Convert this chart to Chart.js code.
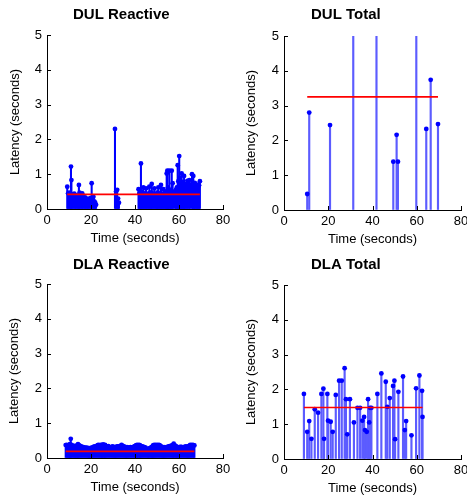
<!DOCTYPE html>
<html>
<head>
<meta charset="utf-8">
<script src="https://cdn.jsdelivr.net/npm/chart.js@4/dist/chart.umd.min.js"></script>
<style>
  body { margin: 0; background: #fff; }
  #wrap { position: relative; width: 467px; height: 497px; }
  canvas { position: absolute; }
</style>
</head>
<body>
<div id="wrap">
  <canvas id="c0" width="234" height="250" style="left:0;top:0"></canvas>
  <canvas id="c1" width="233" height="250" style="left:234px;top:0"></canvas>
  <canvas id="c2" width="234" height="247" style="left:0;top:250px"></canvas>
  <canvas id="c3" width="233" height="247" style="left:234px;top:250px"></canvas>
</div>
<script>
// ===== Data =====
const panelTitles = ['DUL Reactive', 'DUL Total', 'DLA Reactive', 'DLA Total'];
const meanLatency = [0.42, 3.25, 0.19, 1.48];
const timeRange = [0, 80];
const latencyRange = [0, 5];

const dulReactiveTime = [
  9.2, 9.6, 10.1, 10.5, 10.9, 11.1, 11.5, 11.9, 12.4, 12.8, 13.2, 13.7, 14.1, 14.5, 14.8, 15.2, 15.6,
  16.0, 16.4, 16.9, 17.3, 17.7, 18.2, 18.6, 19.0, 19.5, 19.9, 20.3, 20.7, 21.1, 21.5, 21.9, 22.3,
  30.9, 31.4, 31.9, 32.3, 32.7,
  41.6, 42.0, 42.4, 42.7, 43.1, 43.5, 43.8, 44.2, 44.6, 45.0, 45.4, 45.8, 46.2, 46.5, 46.9, 47.3,
  47.6, 48.0, 48.4, 48.8, 49.2, 49.6, 50.0, 50.3, 50.6, 51.0, 51.4, 51.8, 52.2, 52.6, 52.9, 53.3,
  53.7, 54.1, 54.4, 54.7, 55.0, 55.3, 55.6, 56.0, 56.3, 56.7, 57.1, 57.4, 58.2, 58.6, 59.0, 59.4,
  59.7, 60.1, 60.4, 60.8, 61.2, 61.5, 61.9, 62.3, 62.6, 63.0, 63.4, 63.8, 64.2, 64.7, 65.0, 65.9,
  66.2, 66.5, 66.9, 67.2, 67.6, 68.0, 68.3, 68.7, 69.1, 69.5
];
const dulReactiveLatency = [
  0.64, 0.45, 0.47, 0.40, 1.22, 0.83, 0.42, 0.38, 0.44, 0.36, 0.40, 0.35, 0.38, 0.69, 0.47, 0.43, 0.40,
  0.45, 0.36, 0.30, 0.33, 0.28, 0.25, 0.30, 0.22, 0.26, 0.32, 0.74, 0.30, 0.35, 0.22, 0.18, 0.12,
  2.30, 0.50, 0.55, 0.30, 0.18,
  0.57, 0.45, 0.40, 1.31, 0.50, 0.42, 0.62, 0.45, 0.38, 0.59, 0.42, 0.36, 0.45, 0.64, 0.40, 0.48,
  0.72, 0.45, 0.38, 0.59, 0.42, 0.36, 0.45, 0.48, 0.62, 0.40, 0.45, 0.69, 0.42, 0.38, 0.57, 0.45,
  0.40, 0.50, 1.02, 1.10, 0.62, 0.45, 1.10, 0.55, 0.45, 1.10, 0.74, 0.50, 0.45, 0.55, 0.62, 1.26,
  0.80, 1.52, 0.90, 0.75, 1.02, 0.78, 0.70, 0.95, 0.72, 0.68, 0.70, 0.81, 0.72, 0.83, 0.70, 1.00,
  0.75, 0.95, 0.70, 0.75, 0.68, 0.65, 0.70, 0.62, 0.68, 0.80
];

const dulTotalTime = [10.5, 11.4, 20.8, 31.3, 41.8, 49.4, 50.9, 51.5, 59.8, 64.3, 66.3, 69.6];
const dulTotalLatency = [0.46, 2.80, 2.44, 6.1, 7.4, 1.39, 2.16, 1.39, 6.3, 2.33, 3.74, 2.47];

const dlaReactiveTime = [
  8.5, 9.0, 9.5, 10.0, 10.4, 10.8, 11.2, 11.7, 12.2, 12.7, 13.2, 13.7, 14.1, 14.6, 15.1, 15.6, 16.1,
  16.6, 17.1, 17.6, 18.1, 18.6, 19.1, 19.5, 20.0, 20.5, 21.0, 21.5, 22.0, 22.5, 23.0, 23.5, 24.0,
  24.5, 25.0, 25.5, 26.0, 26.4, 26.9, 27.4, 27.9, 28.4, 28.9, 29.4, 29.9, 30.4, 30.9, 31.4, 31.9,
  32.4, 32.9, 33.4, 33.9, 34.4, 34.9, 35.4, 35.9, 36.4, 36.9, 37.4, 37.9, 38.4, 38.9, 39.4, 39.9,
  40.4, 40.9, 41.4, 41.9, 42.3, 42.8, 43.3, 43.8, 44.3, 44.8, 45.3, 45.8, 46.2, 46.7, 47.2, 47.7,
  48.2, 48.7, 49.2, 49.7, 50.2, 50.7, 51.2, 51.7, 52.2, 52.7, 53.2, 53.7, 54.2, 54.7, 55.2, 55.7,
  56.2, 56.7, 57.2, 57.6, 58.1, 58.6, 59.1, 59.6, 60.1, 60.6, 61.1, 61.6, 62.1, 62.6, 63.1, 63.6,
  64.1, 64.6, 65.1, 65.6, 66.1, 66.6, 67.0
];
const dlaReactiveLatency = [
  0.37, 0.38, 0.36, 0.37, 0.40, 0.55, 0.38, 0.35, 0.34, 0.35, 0.33, 0.36, 0.40, 0.36, 0.35, 0.33, 0.30,
  0.31, 0.30, 0.29, 0.30, 0.28, 0.28, 0.26, 0.29, 0.30, 0.31, 0.33, 0.32, 0.34, 0.37, 0.38, 0.36,
  0.38, 0.37, 0.39, 0.37, 0.38, 0.34, 0.33, 0.34, 0.31, 0.30, 0.32, 0.33, 0.31, 0.30, 0.32, 0.33,
  0.33, 0.32, 0.35, 0.38, 0.35, 0.33, 0.32, 0.30, 0.31, 0.30, 0.29, 0.31, 0.30, 0.31, 0.32, 0.34,
  0.36, 0.38, 0.37, 0.38, 0.36, 0.34, 0.33, 0.32, 0.31, 0.30, 0.27, 0.25, 0.24, 0.28, 0.30, 0.32,
  0.36, 0.38, 0.37, 0.38, 0.37, 0.38, 0.37, 0.34, 0.32, 0.30, 0.31, 0.30, 0.31, 0.30, 0.33, 0.34,
  0.33, 0.36, 0.38, 0.41, 0.36, 0.34, 0.32, 0.30, 0.31, 0.32, 0.32, 0.30, 0.31, 0.32, 0.33, 0.32,
  0.33, 0.35, 0.38, 0.37, 0.38, 0.37, 0.36
];

const dlaTotalTime = [
  9.0, 10.5, 11.4, 12.4, 13.9, 15.4, 16.9, 17.8, 18.1, 19.6, 19.9, 21.1, 22.0, 23.4, 24.9, 26.1,
  27.4, 28.0, 28.6, 29.8, 31.6, 33.2, 34.4, 35.4, 36.2, 36.6, 37.4, 38.0, 38.5, 38.9, 39.5, 42.2,
  44.0, 46.0, 46.7, 47.8, 49.3, 49.9, 50.2, 51.7, 53.8, 54.6, 55.2, 57.6, 59.7, 61.2, 62.4, 62.6
];
const dlaTotalLatency = [
  1.87, 0.78, 1.09, 0.58, 1.43, 1.33, 1.87, 2.02, 0.58, 1.87, 1.10, 1.07, 0.78, 1.84, 2.25, 2.25,
  2.61, 1.72, 0.71, 1.72, 1.05, 1.47, 1.47, 1.10, 1.21, 0.83, 0.78, 1.72, 1.05, 1.47, 1.47, 1.87,
  2.46, 2.22, 1.50, 1.75, 2.10, 2.25, 0.57, 1.93, 2.37, 0.83, 1.09, 0.68, 2.03, 2.40, 1.96, 1.21
];

// ===== Panel layout =====
const panels = [
  { id: 'c0', time: dulReactiveTime, latency: dulReactiveLatency, stem: 1.4, stemColor: '#0000ff',
    pad: { left: 0, top: 35, right: 11, bottom: 3 }, yWidth: 47, yTitlePad: 8, titleX: 73 },
  { id: 'c1', time: dulTotalTime, latency: dulTotalLatency, stem: 1.5, stemColor: '#5c5cff',
    pad: { left: 0, top: 36, right: 6, bottom: 2 }, yWidth: 50, yTitlePad: 10, titleX: 77 },
  { id: 'c2', time: dlaReactiveTime, latency: dlaReactiveLatency, stem: 1.4, stemColor: '#0000ff',
    pad: { left: 0, top: 34, right: 11, bottom: 1 }, yWidth: 47, yTitlePad: 7, titleX: 73 },
  { id: 'c3', time: dlaTotalTime, latency: dlaTotalLatency, stem: 1.5, stemColor: '#5c5cff',
    pad: { left: 0, top: 35, right: 6, bottom: 0 }, yWidth: 50, yTitlePad: 10, titleX: 77 }
];

Chart.defaults.font.family = 'Arial, "Liberation Sans", sans-serif';
Chart.defaults.color = '#000';

// ===== Plugins: inward ticks + panel title =====
const inwardTicks = {
  id: 'inwardTicks',
  afterDraw(chart) {
    const { ctx, chartArea, scales: { x, y } } = chart;
    ctx.save();
    ctx.strokeStyle = '#000';
    ctx.lineWidth = 1;
    ctx.beginPath();
    x.ticks.forEach(t => {
      const px = Math.round(x.getPixelForValue(t.value)) + 0.5;
      ctx.moveTo(px, chartArea.bottom);
      ctx.lineTo(px, chartArea.bottom - 4);
    });
    y.ticks.forEach(t => {
      const py = Math.round(y.getPixelForValue(t.value)) + 0.5;
      ctx.moveTo(chartArea.left, py);
      ctx.lineTo(chartArea.left + 4, py);
    });
    ctx.stroke();
    ctx.restore();
  }
};

const panelTitle = {
  id: 'panelTitle',
  afterDraw(chart, args, opts) {
    const ctx = chart.ctx;
    ctx.save();
    ctx.font = 'bold 15px Arial, "Liberation Sans", sans-serif';
    ctx.fillStyle = '#000';
    ctx.textAlign = 'left';
    ctx.textBaseline = 'middle';
    ctx.fillText(opts.text, opts.x, opts.y);
    ctx.restore();
  }
};

// ===== Render the four stem plots =====
// lower "order" is drawn last (on top): mean line > heads > stems
panels.forEach((p, i) => {
  const points = p.time.map((t, k) => ({ x: t, y: p.latency[k] }));
  const tStart = Math.min(...p.time);
  const tEnd = Math.max(...p.time);

  new Chart(document.getElementById(p.id), {
    type: 'bar',
    data: {
      datasets: [
        {
          // mean latency
          type: 'line',
          data: [{ x: tStart, y: meanLatency[i] }, { x: tEnd, y: meanLatency[i] }],
          borderColor: '#ff0000',
          borderWidth: 1.7,
          pointRadius: 0,
          order: 0
        },
        {
          // stem heads
          type: 'scatter',
          data: points,
          pointRadius: 2.4,
          pointBackgroundColor: '#0000ff',
          pointBorderWidth: 0,
          clip: 0,
          order: 1
        },
        {
          // stems
          type: 'bar',
          data: points,
          backgroundColor: p.stemColor,
          barThickness: p.stem,
          grouped: false,
          borderWidth: 0,
          clip: 0,
          order: 2
        }
      ]
    },
    options: {
      responsive: false,
      animation: false,
      events: [],
      layout: { padding: p.pad },
      plugins: {
        legend: { display: false },
        tooltip: { enabled: false },
        panelTitle: { text: panelTitles[i], x: p.titleX, y: 15 }
      },
      scales: {
        x: {
          type: 'linear',
          min: timeRange[0],
          max: timeRange[1],
          offset: false,
          grid: { drawOnChartArea: false, drawTicks: false },
          border: { color: '#000' },
          ticks: { stepSize: 20, padding: 4, maxRotation: 0, autoSkip: false, font: { size: 13 } },
          title: { display: true, text: 'Time (seconds)', font: { size: 13 }, padding: { top: 0, bottom: 1 } },
          afterFit(s) { s.height = 38; s.paddingLeft = 0; s.paddingRight = 0; }
        },
        y: {
          min: latencyRange[0],
          max: latencyRange[1],
          grid: { drawOnChartArea: false, drawTicks: false },
          border: { color: '#000' },
          ticks: { stepSize: 1, padding: 5, font: { size: 13 } },
          title: { display: true, text: 'Latency (seconds)', font: { size: 13 }, padding: { top: p.yTitlePad, bottom: 0 } },
          afterFit(s) { s.width = p.yWidth; s.paddingTop = 0; s.paddingBottom = 0; }
        }
      }
    },
    plugins: [inwardTicks, panelTitle]
  });
});
</script>
</body>
</html>
